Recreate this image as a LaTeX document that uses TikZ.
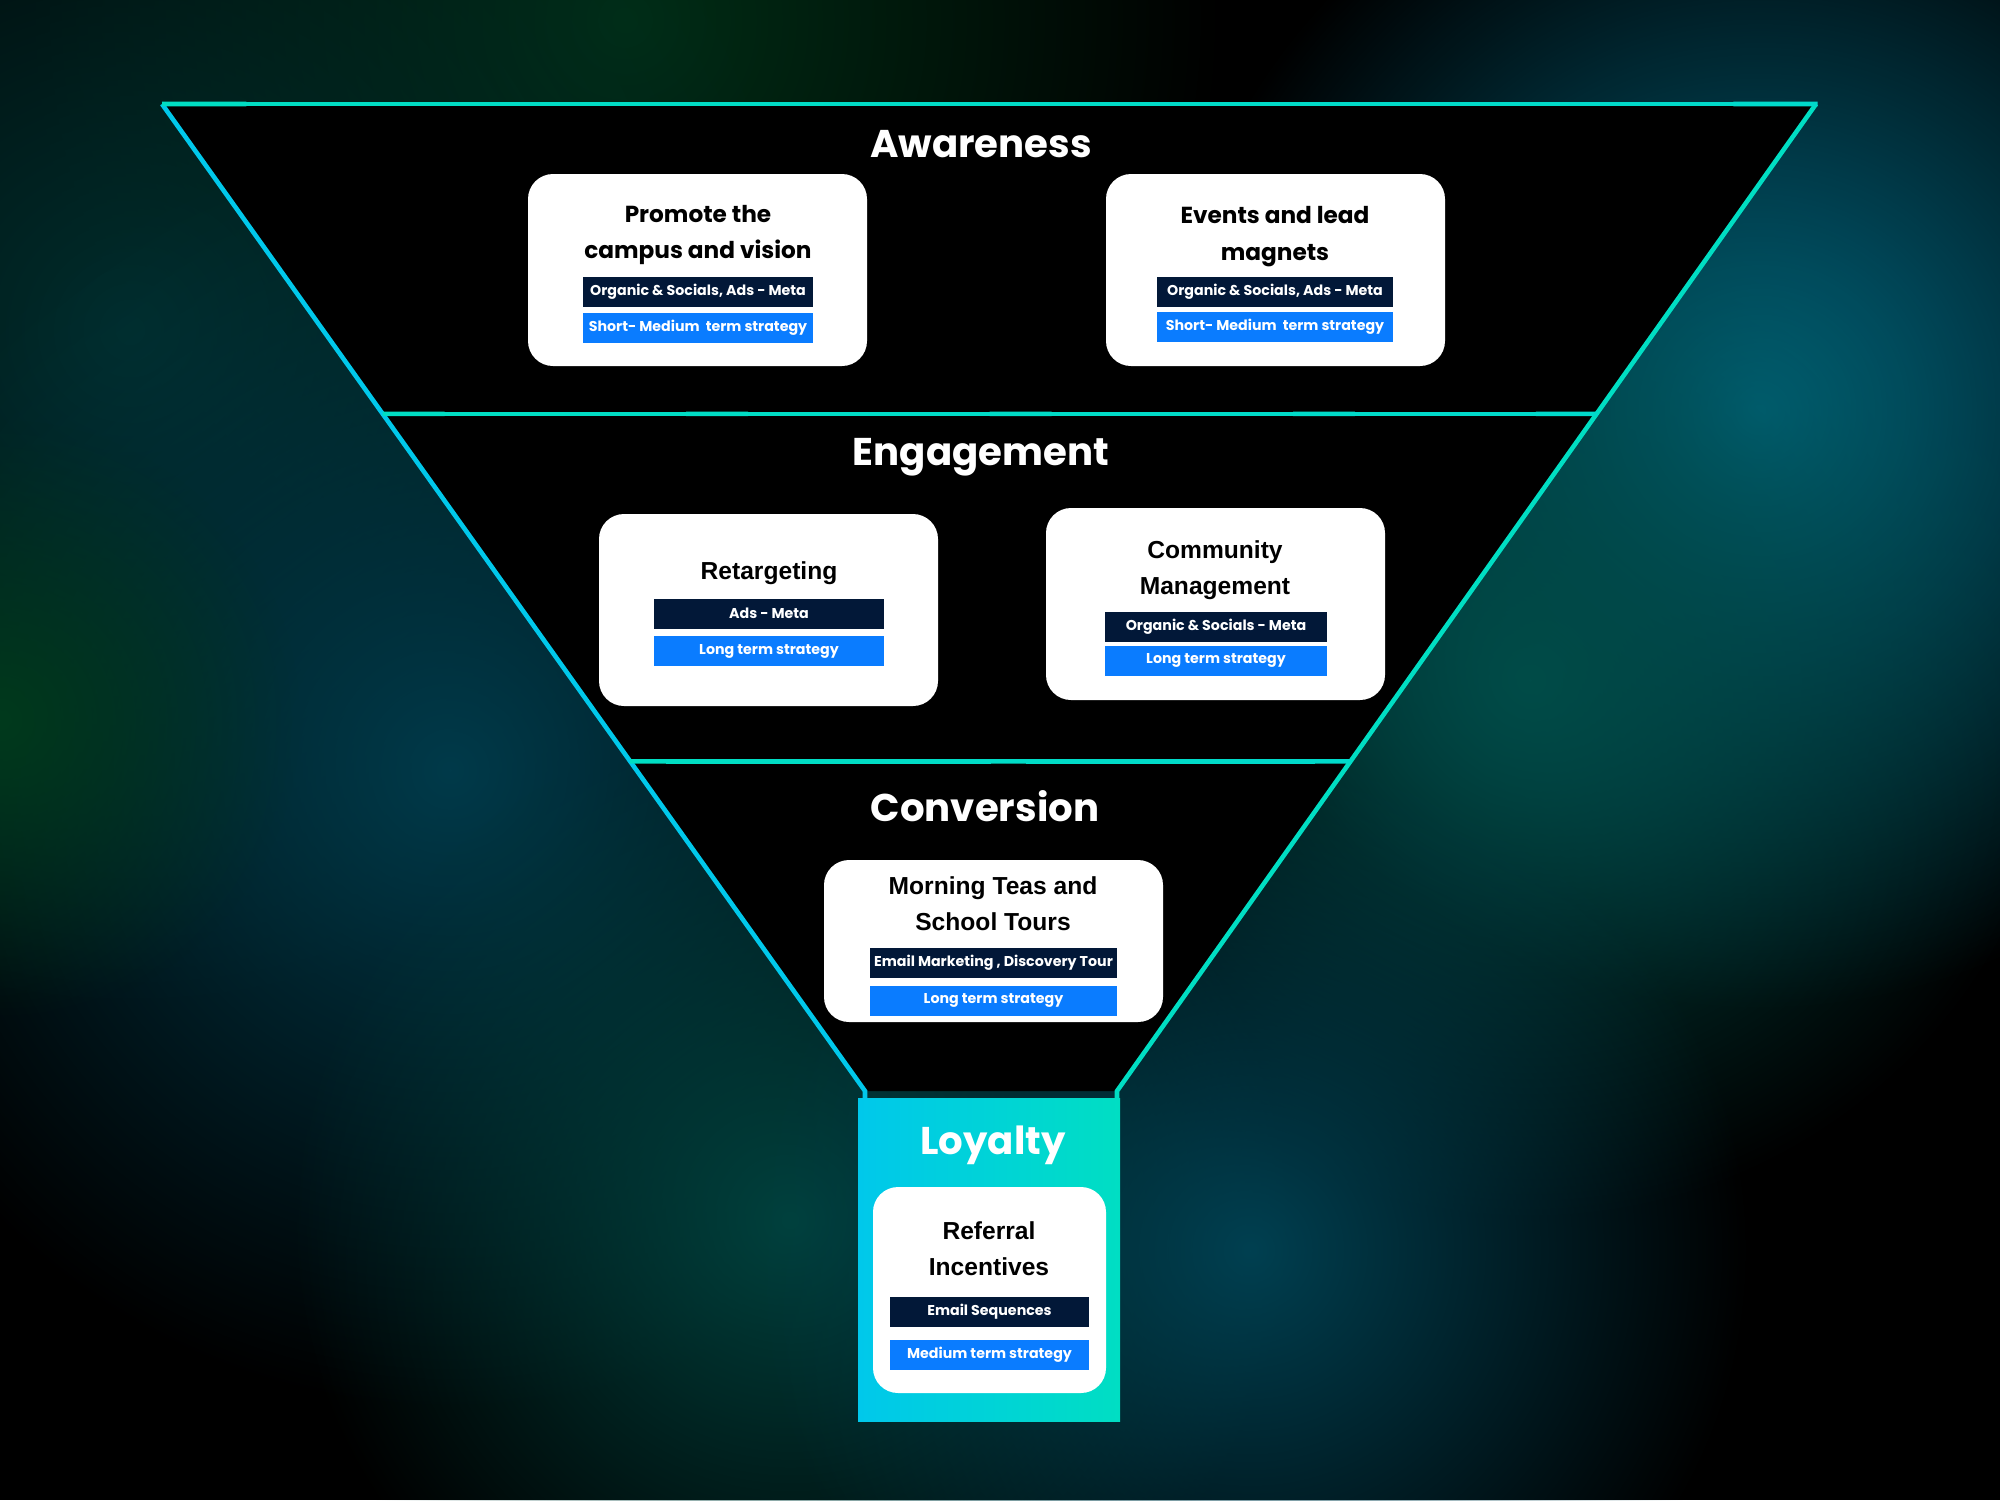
\documentclass[tikz,border=0pt]{standalone}
\usepackage{fontspec}
\setmainfont{Poppins}
\newfontfamily\popsemi{Poppins SemiBold}
\newfontfamily\cardsans{Liberation Sans}
\usetikzlibrary{fadings,positioning,calc}
\definecolor{navytag}{RGB}{2,24,56}
\definecolor{bluetag}{RGB}{10,124,255}
\definecolor{edgecyan}{RGB}{0,200,235}
\definecolor{edgeteal}{RGB}{0,222,195}
\definecolor{glowgreen}{RGB}{0,58,28}
\definecolor{glowdusk}{RGB}{0,45,44}
\definecolor{glowteal}{RGB}{0,100,125}
\definecolor{glowsea}{RGB}{0,76,72}
\definecolor{glowblue}{RGB}{0,58,74}
\tikzfading[name=glowfade,inner color=transparent!0,outer color=transparent!100]

\begin{document}
\begin{tikzpicture}[
stage/.style={text=white,font=\fontsize{11}{13}\selectfont\bfseries,inner sep=0},
card/.style={fill=white,rounded corners=0.25cm,minimum width=3.39cm,minimum height=1.92cm,inner sep=0},
cardtitle/.style={align=center,text=black,font=\fontsize{6.6}{10.4}\selectfont\bfseries,inner sep=0},
cardtitleb/.style={cardtitle,font=\fontsize{7}{10.4}\selectfont\cardsans\bfseries},
tagdark/.style={fill=navytag,text=white,minimum width=2.3cm,minimum height=0.30cm,inner sep=0,font=\fontsize{4.05}{5}\selectfont\bfseries},
tagblue/.style={tagdark,fill=bluetag},
funnel/.style={line width=1.3pt}]
\useasboundingbox (0,0) rectangle (20,-15);
\fill[black] (0,0) rectangle (20,-15);
% background glow
\foreach \x/\y/\r/\c in {6.25/-0.2/3.0/glowgreen!80!black,1.3/-3.3/3.4/glowdusk,4.5/-7.7/3.2/glowblue,0/-7.2/1.5/glowgreen,17.6/-4.1/3.0/glowteal,15.3/-6.8/2.7/glowsea,7.9/-12.2/2.5/glowsea!85!black,12.5/-12.5/2.5/glowblue!110!black}
  \fill[\c,path fading=glowfade] (\x,\y) circle (2*\r);
% funnel
\coordinate (tl) at (1.62,-1.04);
\coordinate (tr) at (18.16,-1.04);
\coordinate (bl) at (8.65,-10.91);
\coordinate (br) at (11.17,-10.91);
\coordinate (ml1) at ($(tl)!0.314!(bl)$);
\coordinate (mr1) at ($(tr)!0.314!(br)$);
\coordinate (ml2) at ($(tl)!0.666!(bl)$);
\coordinate (mr2) at ($(tr)!0.666!(br)$);
\fill[black] (tl) -- (tr) -- (br) -- (bl) -- cycle;
\draw[funnel,edgecyan] (tl) -- (bl) -- ++(0,-0.08);
\draw[funnel,edgeteal] (tr) -- (br) -- ++(0,-0.08);
\foreach \a/\b in {tl/tr,ml1/mr1,ml2/mr2}
  \foreach \k [evaluate=\k as \p using 100-5*\k, evaluate=\k as \q using \k+1.02] in {0,...,19}
    \draw[funnel,edgecyan!\p!edgeteal] ($(\a)!\k/20!(\b)$) -- ($(\a)!\q/20!(\b)$);
% loyalty block
\shade[left color=edgecyan,right color=edgeteal] (8.58,-10.98) rectangle (11.20,-14.21);

\node[stage] (awareness) at (9.81,-1.44) {Awareness};
\node[stage] (engagement) at (9.81,-4.57) {Engagement};
\node[stage] (conversion) at (9.85,-8.06) {Conversion};
\node[stage] (loyalty) at (9.93,-11.45) {Loyalty};

\node[card] (promote) at (6.975,-2.70) {};
\node[cardtitle] (promotetitle) at (6.98,-2.35) {Promote the\\campus and vision};
\node[tagdark] (promotech) at (6.98,-2.92) {Organic \& Socials, Ads - Meta};
\node[tagblue] (promoteterm) at (6.98,-3.28) {Short- Medium\ \ term strategy};

\node[card] (events) at (12.755,-2.70) {};
\node[cardtitle] (eventstitle) at (12.75,-2.365) {Events and lead\\magnets};
\node[tagdark,minimum width=2.36cm] (eventsch) at (12.75,-2.92) {Organic \& Socials, Ads - Meta};
\node[tagblue,minimum width=2.36cm] (eventsterm) at (12.75,-3.265) {Short- Medium\ \ term strategy};

\node[card] (retarget) at (7.685,-6.10) {};
\node[cardtitleb] (retargettitle) at (7.69,-5.73) {Retargeting};
\node[tagdark] (retargetch) at (7.69,-6.135) {Ads - Meta};
\node[tagblue] (retargetterm) at (7.69,-6.51) {Long term strategy};

\node[card] (community) at (12.155,-6.04) {};
\node[cardtitleb] (communitytitle) at (12.15,-5.70) {Community\\Management};
\node[tagdark,minimum width=2.22cm] (communitych) at (12.16,-6.27) {Organic \& Socials - Meta};
\node[tagblue,minimum width=2.22cm] (communityterm) at (12.16,-6.605) {Long term strategy};

\node[card,minimum height=1.62cm] (tours) at (9.935,-9.41) {};
\node[cardtitleb] (tourstitle) at (9.93,-9.035) {Morning Teas and\\School Tours};
\node[tagdark,minimum width=2.47cm] (toursch) at (9.935,-9.63) {Email Marketing , Discovery Tour};
\node[tagblue,minimum width=2.47cm] (toursterm) at (9.935,-10.005) {Long term strategy};

\node[card,minimum width=2.33cm,minimum height=2.06cm] (referral) at (9.895,-12.90) {};
\node[cardtitleb] (referraltitle) at (9.89,-12.485) {Referral\\Incentives};
\node[tagdark,minimum width=1.99cm] (referralch) at (9.895,-13.12) {Email Sequences};
\node[tagblue,minimum width=1.99cm] (referralterm) at (9.895,-13.545) {Medium term strategy};
\end{tikzpicture}
\end{document}
